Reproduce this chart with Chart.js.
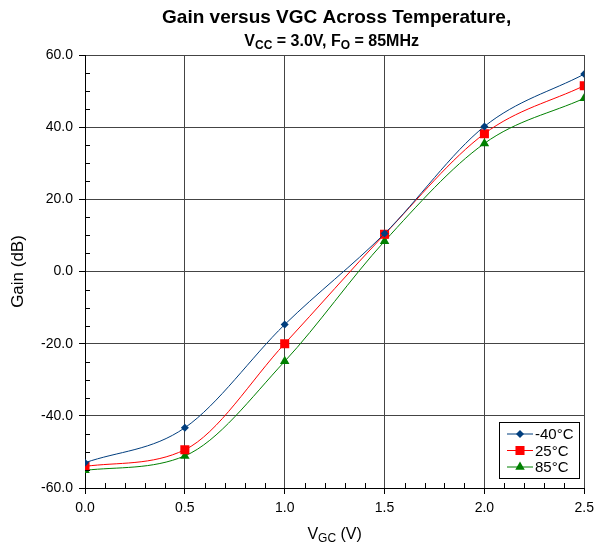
<!DOCTYPE html>
<html>
<head>
<meta charset="utf-8">
<script src="https://cdn.jsdelivr.net/npm/chart.js@4.4.1/dist/chart.umd.min.js"></script>
<style>
  html, body { margin: 0; padding: 0; background: #fff; }
  #wrap { width: 600px; height: 550px; }
</style>
</head>
<body>
<div id="wrap"><canvas id="gainChart" width="600" height="550"></canvas></div>
<script>
// Data
const vgc = [0.0, 0.5, 1.0, 1.5, 2.0, 2.5];
const gainM40 = [-53.0, -43.3, -14.7, 10.5, 40.2, 54.7];
const gain25 = [-54.0, -49.4, -20.0, 10.3, 38.2, 51.5];
const gain85 = [-55.1, -51.1, -24.9, 8.4, 35.5, 48.0];
const seriesLabels = ['-40°C', '25°C', '85°C'];

const FONT = '"Liberation Sans", Arial, sans-serif';

function toPoints(ys) {
    return vgc.map((x, i) => ({ x: x, y: ys[i] }));
}

// draw text made of normal + subscript pieces, centred on cx
function drawRich(ctx, parts, cx, y, size, subSize, bold) {
    const w = bold ? 'bold ' : '';
    let total = 0;
    parts.forEach(p => {
        ctx.font = w + (p.sub ? subSize : size) + 'px ' + FONT;
        total += ctx.measureText(p.t).width;
    });
    let x = cx - total / 2;
    ctx.textAlign = 'left';
    ctx.textBaseline = 'alphabetic';
    parts.forEach(p => {
        ctx.font = w + (p.sub ? subSize : size) + 'px ' + FONT;
        ctx.fillText(p.t, x, p.sub ? y + size * 0.2 : y);
        x += ctx.measureText(p.t).width;
    });
}

const decor = {
    id: 'decor',
    afterDraw(chart) {
        const ctx = chart.ctx;
        const area = chart.chartArea;
        const xs = chart.scales.x;
        const ys = chart.scales.y;
        const cx = (area.left + area.right) / 2;
        ctx.save();
        ctx.fillStyle = '#000';

        // titles
        ctx.font = 'bold 19px ' + FONT;
        ctx.textAlign = 'center';
        ctx.textBaseline = 'alphabetic';
        ctx.fillText('Gain versus VGC Across Temperature,', cx + 2, 23);
        drawRich(ctx, [
            { t: 'V' }, { t: 'CC', sub: true }, { t: ' = 3.0V, F' },
            { t: 'O', sub: true }, { t: ' = 85MHz' }
        ], cx - 3, 46, 16, 12, true);

        // axis titles
        drawRich(ctx, [{ t: 'V' }, { t: 'GC', sub: true }, { t: ' (V)' }], cx, 539, 16, 12, false);
        ctx.save();
        ctx.translate(23, (area.top + area.bottom) / 2);
        ctx.rotate(-Math.PI / 2);
        ctx.font = '17px ' + FONT;
        ctx.textAlign = 'center';
        ctx.fillText('Gain (dB)', 0, 0);
        ctx.restore();

        // minor ticks pointing into the plot
        ctx.strokeStyle = '#000';
        ctx.lineWidth = 1;
        ctx.beginPath();
        for (let i = 1; i < 25; i++) {
            if (i % 5 === 0) continue;
            const px = Math.round(xs.getPixelForValue(i / 10)) + 0.5;
            ctx.moveTo(px, area.bottom);
            ctx.lineTo(px, area.bottom - 5);
        }
        for (let v = -55; v < 60; v += 5) {
            if (v % 20 === 0) continue;
            const py = Math.round(ys.getPixelForValue(v)) + 0.5;
            ctx.moveTo(area.left, py);
            ctx.lineTo(area.left + 5, py);
        }
        ctx.stroke();

        // legend box, lower right inside the plot
        const bx = 499, by = 422, bw = 80, bh = 56;
        ctx.fillStyle = '#fff';
        ctx.fillRect(bx, by, bw, bh);
        ctx.strokeStyle = '#000';
        ctx.lineWidth = 1;
        ctx.strokeRect(bx + 0.5, by + 0.5, bw, bh);
        chart.data.datasets.forEach((ds, i) => {
            const ly = 434 + i * 16.5;
            ctx.strokeStyle = ds.borderColor;
            ctx.lineWidth = 1;
            ctx.beginPath();
            ctx.moveTo(507, ly);
            ctx.lineTo(533, ly);
            ctx.stroke();
            ctx.fillStyle = ds.pointBackgroundColor;
            ctx.strokeStyle = ds.pointBorderColor;
            Chart.helpers.drawPoint(ctx, {
                pointStyle: ds.pointStyle, radius: ds.pointRadius, rotation: 0, borderWidth: 0
            }, 520, ly);
            ctx.fillStyle = '#000';
            ctx.font = '15px ' + FONT;
            ctx.textAlign = 'left';
            ctx.textBaseline = 'middle';
            ctx.fillText(ds.label, 535, ly + 1);
        });
        ctx.restore();
    }
};

function series(label, ys, color, style, r) {
    return {
        label: label,
        data: toPoints(ys),
        borderColor: color,
        borderWidth: 1,
        pointStyle: style,
        pointRadius: r,
        pointBackgroundColor: color,
        pointBorderColor: color,
        pointBorderWidth: 0,
        cubicInterpolationMode: 'monotone',
        fill: false
    };
}

const ctx = document.getElementById('gainChart').getContext('2d');
new Chart(ctx, {
    type: 'line',
    data: {
        datasets: [
            series(seriesLabels[0], gainM40, '#003e7e', 'rectRot', 4),
            series(seriesLabels[1], gain25, '#ff0000', 'rect', 6.4),
            series(seriesLabels[2], gain85, '#008000', 'triangle', 5.5)
        ]
    },
    options: {
        responsive: false,
        animation: false,
        layout: { padding: { top: 55, right: 12, left: 0, bottom: 0 } },
        plugins: {
            legend: { display: false },
            tooltip: { enabled: false },
            title: { display: false }
        },
        scales: {
            x: {
                type: 'linear',
                min: 0,
                max: 2.5,
                afterFit: s => { s.height = 62; },
                ticks: {
                    stepSize: 0.5,
                    padding: 6,
                    color: '#000',
                    font: { family: FONT, size: 14 },
                    maxRotation: 0,
                    callback: v => v.toFixed(1)
                },
                grid: { color: '#444', lineWidth: 1, tickLength: 6, tickColor: '#000' },
                border: { color: '#000', width: 1 }
            },
            y: {
                min: -60,
                max: 60,
                afterFit: s => { s.width = 85; },
                ticks: {
                    stepSize: 20,
                    padding: 6,
                    color: '#000',
                    font: { family: FONT, size: 14 },
                    callback: v => v.toFixed(1)
                },
                grid: { color: '#444', lineWidth: 1, tickLength: 6, tickColor: '#000' },
                border: { color: '#000', width: 1 }
            }
        }
    },
    plugins: [decor]
});
</script>
</body>
</html>
